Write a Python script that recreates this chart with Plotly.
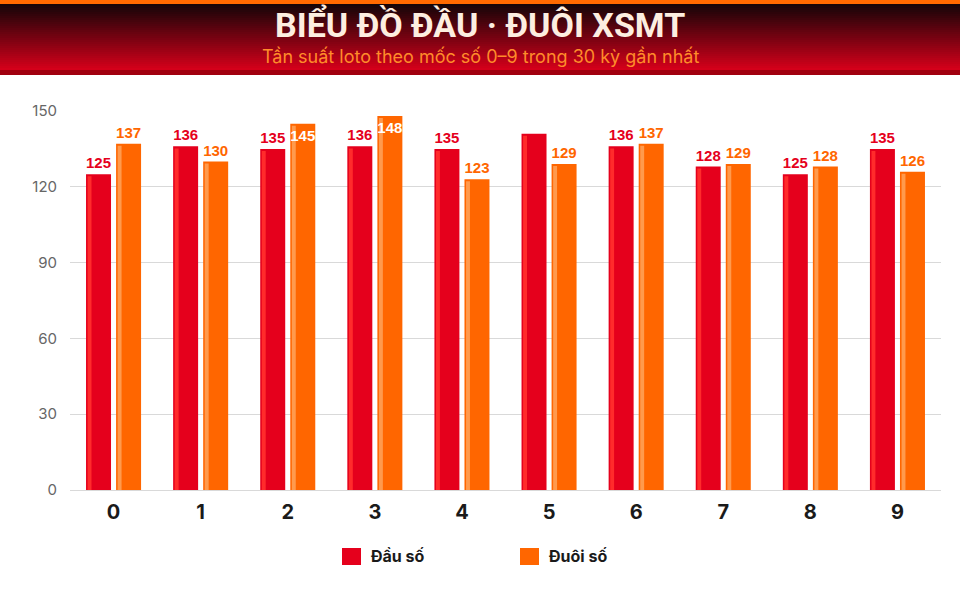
import plotly.graph_objects as go

# ---------------------------------------------------------------------------
# DATA
# ---------------------------------------------------------------------------
digits = ['0', '1', '2', '3', '4', '5', '6', '7', '8', '9']
dau_so = [125, 136, 135, 136, 135, 141, 136, 128, 125, 135]
duoi_so = [137, 130, 145, 148, 123, 129, 137, 129, 128, 126]
y_ticks = [0, 30, 60, 90, 120, 150]

title_text = 'BIỂU ĐỒ ĐẦU · ĐUÔI XSMT'
subtitle_text = 'Tần suất loto theo mốc số 0–9 trong 30 kỳ gần nhất'

RED = '#e5001c'
RED_HI = '#ff2b2b'
ORANGE = '#ff6600'
ORANGE_HI = '#ff9a4d'

# layout geometry (pixels)
W, H = 960, 600
M_L, M_R, M_T, M_B = 70, 19, 111, 110
PLOT_H = H - M_T - M_B


def py(px):
    """pixel row -> paper y"""
    return (H - M_B - px) / PLOT_H


def px_x(px):
    return (px - M_L) / (W - M_L - M_R)


BAR_W = 0.287
RED_OFF = -0.316
ORA_OFF = 0.029
LABEL_FONT = 'Liberation Sans'

# labels: the reference hides the red "5" label, and the two tallest
# orange bars carry their labels inside in white
red_text = [str(v) for v in dau_so]
red_text[5] = ''
ora_text = [str(v) for v in duoi_so]
ora_pos = ['inside' if v >= 145 else 'outside' for v in duoi_so]
ora_col = ['#ffffff' if v >= 145 else ORANGE for v in duoi_so]

fig = go.Figure()

# main bars
fig.add_trace(go.Bar(
    x=digits, y=dau_so, name='Đầu số',
    marker=dict(color=RED, line=dict(width=0)),
    width=BAR_W, offset=RED_OFF,
))
fig.add_trace(go.Bar(
    x=digits, y=duoi_so, name='Đuôi số',
    marker=dict(color=ORANGE, line=dict(width=0)),
    width=BAR_W, offset=ORA_OFF,
))

# light highlight stripes on the left of each bar
fig.add_trace(go.Bar(
    x=digits, y=[v - 0.8 for v in dau_so], marker=dict(color=RED_HI, line=dict(width=0)),
    width=0.045, offset=RED_OFF + 0.018, showlegend=False, hoverinfo='skip',
))
fig.add_trace(go.Bar(
    x=digits, y=[v - 0.8 for v in duoi_so], marker=dict(color=ORANGE_HI, line=dict(width=0)),
    width=0.045, offset=ORA_OFF + 0.018, showlegend=False, hoverinfo='skip',
))

# value labels on transparent copies, drawn on top of everything
fig.add_trace(go.Bar(
    x=digits, y=dau_so, marker=dict(color='rgba(0,0,0,0)', line=dict(width=0)),
    width=BAR_W, offset=RED_OFF, showlegend=False, hoverinfo='skip',
    text=red_text, textposition='outside', textangle=0,
    textfont=dict(family=LABEL_FONT, size=15, color=RED, weight='bold'),
    cliponaxis=False,
))
fig.add_trace(go.Bar(
    x=digits, y=duoi_so, marker=dict(color='rgba(0,0,0,0)', line=dict(width=0)),
    width=BAR_W, offset=ORA_OFF, showlegend=False, hoverinfo='skip',
    text=ora_text, textposition=ora_pos, insidetextanchor='end',
    textangle=0, constraintext='none',
    textfont=dict(family=LABEL_FONT, size=15, color=ora_col, weight='bold'),
    outsidetextfont=dict(family=LABEL_FONT, size=15, color=ORANGE, weight='bold'),
    cliponaxis=False,
))

# header banner: orange top line, dark-to-red gradient, dark red base strip
shapes = [dict(type='rect', xref='paper', yref='paper', x0=-1, x1=2,
               y0=py(4), y1=py(-2), fillcolor='#ff6a00', line=dict(width=0), layer='below')]
top = (0x15, 0x05, 0x08)
bot = (0xd4, 0x00, 0x1a)
n = 33
for i in range(n):
    t = i / (n - 1)
    c = tuple(round(a + (b - a) * t) for a, b in zip(top, bot))
    y0 = 4 + i * 2
    shapes.append(dict(type='rect', xref='paper', yref='paper', x0=-1, x1=2,
                       y0=py(y0 + 2.2), y1=py(y0), fillcolor='rgb(%d,%d,%d)' % c,
                       line=dict(width=0), layer='below'))
shapes.append(dict(type='rect', xref='paper', yref='paper', x0=-1, x1=2,
                   y0=py(75), y1=py(70), fillcolor='#a1000f', line=dict(width=0), layer='below'))

# custom legend swatches
shapes.append(dict(type='rect', xref='paper', yref='paper', x0=px_x(342), x1=px_x(361),
                   y0=py(565), y1=py(548), fillcolor=RED, line=dict(width=0)))
shapes.append(dict(type='rect', xref='paper', yref='paper', x0=px_x(520), x1=px_x(539),
                   y0=py(565), y1=py(548), fillcolor=ORANGE, line=dict(width=0)))

annotations = [
    dict(text='<b>' + title_text + '</b>', xref='paper', yref='paper',
         x=px_x(480), y=py(25), showarrow=False, xanchor='center', yanchor='middle',
         font=dict(family='Roboto', size=34, color='#fdeee0')),
    dict(text=subtitle_text, xref='paper', yref='paper',
         x=px_x(480), y=py(56), showarrow=False, xanchor='center', yanchor='middle',
         font=dict(family='Inter', size=18, color='#ff8c2a')),
    dict(text='<b>Đầu số</b>', xref='paper', yref='paper',
         x=px_x(369), y=py(556), showarrow=False, xanchor='left', yanchor='middle',
         font=dict(family='Inter', size=16, color='#1a1a1a')),
    dict(text='<b>Đuôi số</b>', xref='paper', yref='paper',
         x=px_x(547), y=py(556), showarrow=False, xanchor='left', yanchor='middle',
         font=dict(family='Inter', size=16, color='#1a1a1a')),
]

fig.update_layout(
    width=W, height=H,
    margin=dict(l=M_L, r=M_R, t=M_T, b=M_B, pad=0),
    paper_bgcolor='white', plot_bgcolor='white',
    barmode='overlay', showlegend=False,
    shapes=shapes, annotations=annotations,
    xaxis=dict(
        type='category', showgrid=False, showline=False, ticks='',
        tickfont=dict(family='Inter', size=20, color='#1a1a1a', weight='bold'),
        ticklabelstandoff=8,
    ),
    yaxis=dict(
        range=[0, 150], tickvals=y_ticks, showgrid=True, gridcolor='#d9d9d9', gridwidth=1,
        zeroline=True, zerolinecolor='#d9d9d9', zerolinewidth=1, showline=False, ticks='',
        tickfont=dict(family='Inter', size=15, color='#666666'),
        ticklabelstandoff=12,
    ),
)

fig.write_html('out.html', config={'displayModeBar': False},
               post_script="document.body.style.margin='0';")
